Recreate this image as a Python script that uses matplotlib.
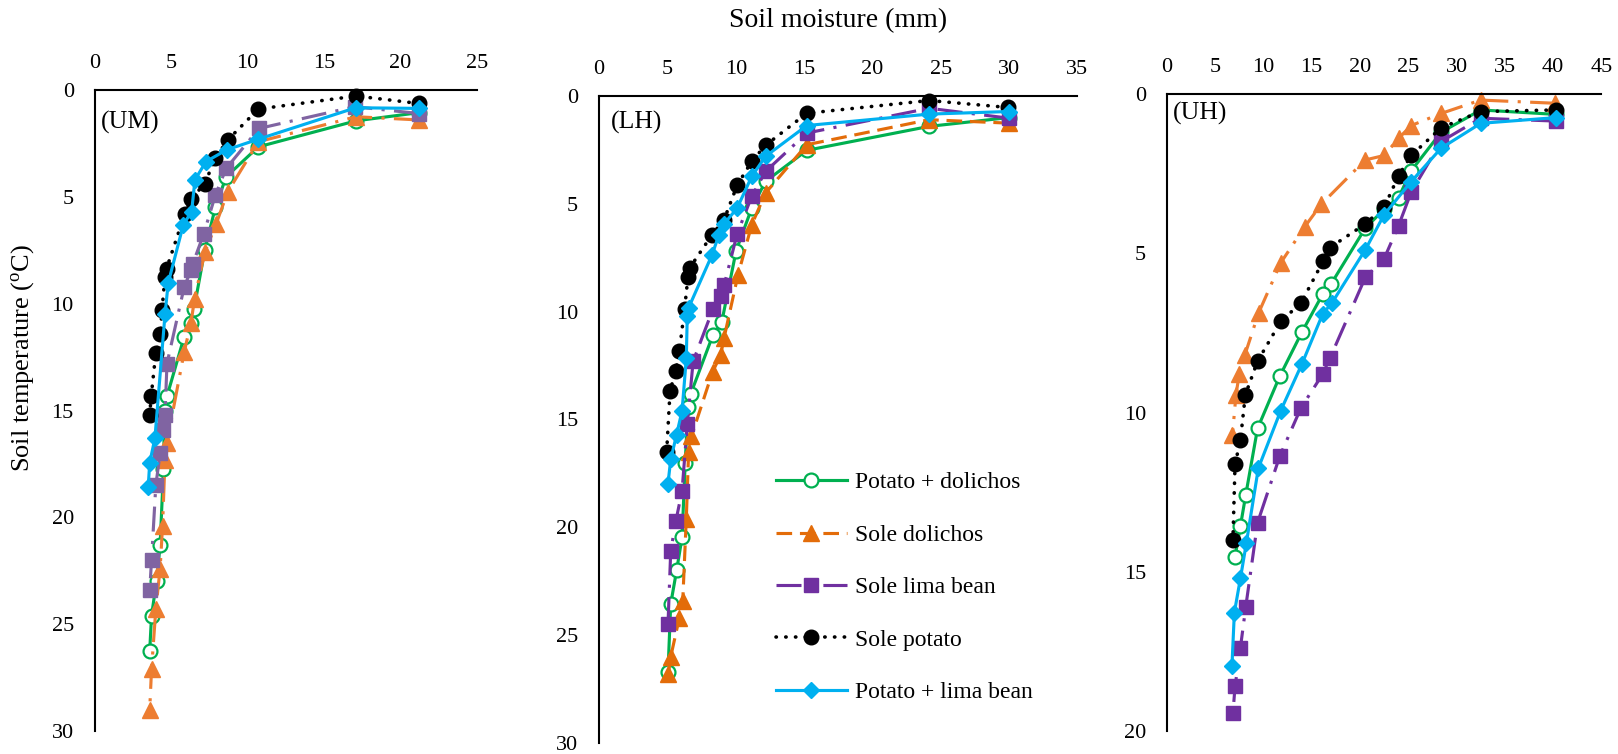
import matplotlib.pyplot as plt

plt.rcParams['font.family'] = 'serif'
plt.rcParams['font.serif'] = ['Liberation Serif', 'Nimbus Roman', 'Times New Roman', 'DejaVu Serif']
plt.rcParams['mathtext.fontset'] = 'custom'
plt.rcParams['mathtext.rm'] = 'Liberation Serif'
plt.rcParams['mathtext.default'] = 'regular'

labels = ['Potato + dolichos', 'Sole dolichos', 'Sole lima bean', 'Sole potato', 'Potato + lima bean']

# (UM) soil moisture (mm) and soil temperature (oC)
um_pd_x = [21.2, 17.1, 10.7, 8.6, 7.9, 7.2, 6.5, 6.3, 5.85, 4.73, 4.57, 4.5, 4.28, 4.05, 3.72, 3.6]
um_pd_y = [1.06, 1.44, 2.66, 4.06, 5.47, 7.5, 10.23, 10.9, 11.56, 14.33, 15.0, 17.76, 21.3, 22.97, 24.6, 26.25]
um_sd_x = [21.2, 17.1, 10.7, 8.7, 7.95, 7.2, 6.53, 6.3, 5.85, 4.73, 4.6, 4.44, 4.28, 4.0, 3.72, 3.6]
um_sd_y = [1.4, 1.25, 2.42, 4.77, 6.25, 7.6, 9.77, 10.9, 12.27, 16.5, 17.3, 20.4, 22.4, 24.3, 27.1, 29.0]
um_sl_x = [21.2, 17.0, 10.74, 8.6, 7.9, 7.14, 6.42, 6.3, 5.86, 4.73, 4.6, 4.5, 4.28, 4.0, 3.72, 3.6]
um_sl_y = [1.1, 0.78, 1.8, 3.67, 4.9, 6.72, 8.13, 8.44, 9.2, 12.8, 15.2, 15.9, 17.0, 18.5, 22.0, 23.4]
um_sp_x = [21.2, 17.1, 10.7, 8.7, 7.9, 7.2, 6.3, 5.9, 4.7, 4.6, 4.4, 4.3, 4.0, 3.7, 3.6]
um_sp_y = [0.63, 0.28, 0.89, 2.34, 3.17, 4.38, 5.1, 5.78, 8.36, 8.75, 10.3, 11.4, 12.3, 14.3, 15.2]
um_pl_x = [21.2, 17.07, 10.7, 8.63, 7.28, 6.56, 6.34, 5.8, 4.81, 4.6, 3.94, 3.6, 3.5]
um_pl_y = [0.86, 0.83, 2.3, 2.8, 3.35, 4.2, 5.69, 6.3, 9.03, 10.5, 16.3, 17.45, 18.6]

# (LH)
lh_pd_x = [30.0, 24.15, 15.2, 12.18, 11.17, 10.03, 8.97, 8.32, 6.71, 6.5, 6.3, 6.07, 5.67, 5.24, 5.04]
lh_pd_y = [1.0, 1.41, 2.52, 3.96, 5.2, 7.17, 10.5, 11.1, 13.8, 14.4, 17.0, 20.47, 22.0, 23.55, 26.7]
lh_sd_x = [30.0, 24.15, 15.2, 12.18, 11.17, 10.16, 9.15, 8.9, 8.3, 6.76, 6.55, 6.38, 6.12, 5.87, 5.24, 5.07]
lh_sd_y = [1.26, 1.1, 2.26, 4.5, 5.97, 8.31, 11.2, 12.0, 12.8, 15.77, 16.5, 19.6, 23.4, 24.2, 26.0, 26.8]
lh_sl_x = [30.0, 24.15, 15.2, 12.18, 11.17, 10.1, 9.15, 8.9, 8.32, 6.88, 6.45, 6.07, 5.62, 5.24, 5.04]
lh_sl_y = [1.03, 0.57, 1.72, 3.5, 4.65, 6.4, 8.77, 9.28, 9.9, 12.3, 15.23, 18.3, 19.7, 21.1, 24.5]
lh_sp_x = [29.9, 24.15, 15.2, 12.18, 11.17, 10.1, 9.15, 8.27, 6.63, 6.5, 6.25, 5.87, 5.6, 5.19, 4.94]
lh_sp_y = [0.53, 0.21, 0.8, 2.29, 3.03, 4.14, 5.73, 6.43, 7.97, 8.4, 9.9, 11.83, 12.75, 13.68, 16.53]
lh_pl_x = [30.0, 24.15, 15.2, 12.18, 11.17, 10.1, 9.15, 8.77, 8.27, 6.55, 6.45, 6.38, 6.07, 5.67, 5.24, 5.04]
lh_pl_y = [0.72, 0.84, 1.37, 2.8, 3.73, 5.2, 5.93, 6.43, 7.36, 9.82, 10.2, 12.17, 14.6, 15.7, 16.85, 17.97]

# (UH)
uh_pd_x = [40.3, 32.5, 28.4, 25.3, 24.0, 22.5, 20.55, 17.0, 16.15, 14.0, 11.7, 9.4, 8.17, 7.63, 7.07]
uh_pd_y = [0.64, 0.5, 1.2, 2.41, 3.25, 3.62, 4.21, 5.97, 6.28, 7.47, 8.86, 10.5, 12.6, 13.56, 14.53]
uh_sd_x = [40.2, 32.5, 28.4, 25.3, 24.0, 22.5, 20.55, 16.0, 14.3, 11.8, 9.5, 8.1, 7.5, 7.17, 6.8]
uh_sd_y = [0.29, 0.19, 0.61, 0.99, 1.39, 1.93, 2.07, 3.46, 4.16, 5.3, 6.88, 8.18, 8.8, 9.44, 10.7]
uh_sl_x = [40.3, 32.5, 28.4, 25.3, 24.0, 22.5, 20.55, 16.9, 16.15, 13.9, 11.7, 9.4, 8.17, 7.63, 7.07, 6.85]
uh_sl_y = [0.85, 0.76, 1.49, 3.08, 4.13, 5.17, 5.76, 8.29, 8.79, 9.85, 11.37, 13.46, 16.12, 17.38, 18.6, 19.45]
uh_sp_x = [40.3, 32.5, 28.4, 25.3, 24.0, 22.5, 20.5, 16.9, 16.2, 13.9, 11.8, 9.4, 8.14, 7.63, 7.07, 6.85]
uh_sp_y = [0.5, 0.55, 1.06, 1.93, 2.56, 3.56, 4.09, 4.82, 5.24, 6.56, 7.14, 8.39, 9.44, 10.85, 11.63, 14.0]
uh_pl_x = [40.3, 32.5, 28.4, 25.3, 22.5, 20.55, 17.1, 16.15, 14.0, 11.8, 9.48, 8.24, 7.63, 7.0, 6.75]
uh_pl_y = [0.74, 0.92, 1.7, 2.75, 3.79, 4.89, 6.56, 6.9, 8.47, 9.94, 11.75, 14.1, 15.2, 16.28, 17.95]

green = '#00B050'
orange = '#ED7D31'
orange2 = '#E36C09'
purple = '#7030A0'
purple_light = '#8064A2'
blue = '#00B0F0'

dashdot = (0, (8, 3, 1, 3))
dashed = (0, (5, 2.5))
dotted = (0, (0.1, 2.6))


def styles(c_orange, ls_orange, c_purple):
    return [
        dict(color=green, lw=2.25, ls='-', marker='o', ms=10, mfc='white', mec=green, mew=1.6),
        dict(color=c_orange, lw=2.25, ls=ls_orange, marker='^', ms=11, mfc=c_orange, mec=c_orange),
        dict(color=c_purple, lw=2.25, ls=dashdot, marker='s', ms=10.5, mfc=c_purple, mec=c_purple),
        dict(color='black', lw=2.6, ls=dotted, dash_capstyle='round', marker='o', ms=10.5, mfc='black', mec='black'),
        dict(color=blue, lw=2.25, ls='-', marker='D', ms=8.5, mfc=blue, mec=blue),
    ]


panels = [
    ('(UM)', [0.0585, 0.0305, 0.2363, 0.8501], 25, 30,
     [(um_pd_x, um_pd_y), (um_sd_x, um_sd_y), (um_sl_x, um_sl_y), (um_sp_x, um_sp_y), (um_pl_x, um_pl_y)],
     styles(orange, dashdot, purple_light), (0.0165, 0.949)),
    ('(LH)', [0.3703, 0.0146, 0.2955, 0.8581], 35, 30,
     [(lh_pd_x, lh_pd_y), (lh_sd_x, lh_sd_y), (lh_sl_x, lh_sl_y), (lh_sp_x, lh_sp_y), (lh_pl_x, lh_pl_y)],
     styles(orange2, dashed, purple), (0.024, 0.959)),
    ('(UH)', [0.7211, 0.0305, 0.2687, 0.8448], 45, 20,
     [(uh_pd_x, uh_pd_y), (uh_sd_x, uh_sd_y), (uh_sl_x, uh_sl_y), (uh_sp_x, uh_sp_y), (uh_pl_x, uh_pl_y)],
     styles(orange, dashdot, purple), (0.0133, 0.969)),
]

fig = plt.figure(figsize=(16.18, 7.54), dpi=100)

handles = None
for name, rect, xmax, ymax, series, sty, tpos in panels:
    ax = fig.add_axes(rect)
    lines = []
    for (x, y), st, lab in zip(series, sty, labels):
        ln, = ax.plot(x, y, label=lab, clip_on=False, **st)
        lines.append(ln)
    ax.set_xlim(0, xmax)
    ax.set_ylim(ymax, 0)
    ax.set_xticks(range(0, xmax + 1, 5))
    ax.set_yticks(range(0, ymax + 1, 5))
    ax.xaxis.tick_top()
    ax.tick_params(axis='both', length=0, labelsize=16)
    ax.tick_params(axis='x', pad=12)
    ax.tick_params(axis='y', pad=15)
    for s in ['bottom', 'right']:
        ax.spines[s].set_visible(False)
    for s in ['top', 'left']:
        ax.spines[s].set_linewidth(1.5)
    ax.text(tpos[0], tpos[1], name, transform=ax.transAxes, fontsize=18.5, va='center', ha='left')
    if name == '(LH)':
        handles = lines

fig.legend(handles, labels, loc='center left', bbox_to_anchor=(776 / 1618, 1 - 587.5 / 754),
           frameon=False, fontsize=17, handlelength=3.0, handletextpad=0.35,
           labelspacing=1.31, borderpad=0, borderaxespad=0, numpoints=1)

fig.text(838 / 1618, 1 - 21 / 754, 'Soil moisture (mm)', fontsize=20, ha='center', va='center')
fig.text(23 / 1618, 1 - 358 / 754, r'Soil temperature ($^{o}$C)', fontsize=19,
         rotation=90, ha='center', va='center')

plt.savefig('out.png', dpi=100)
